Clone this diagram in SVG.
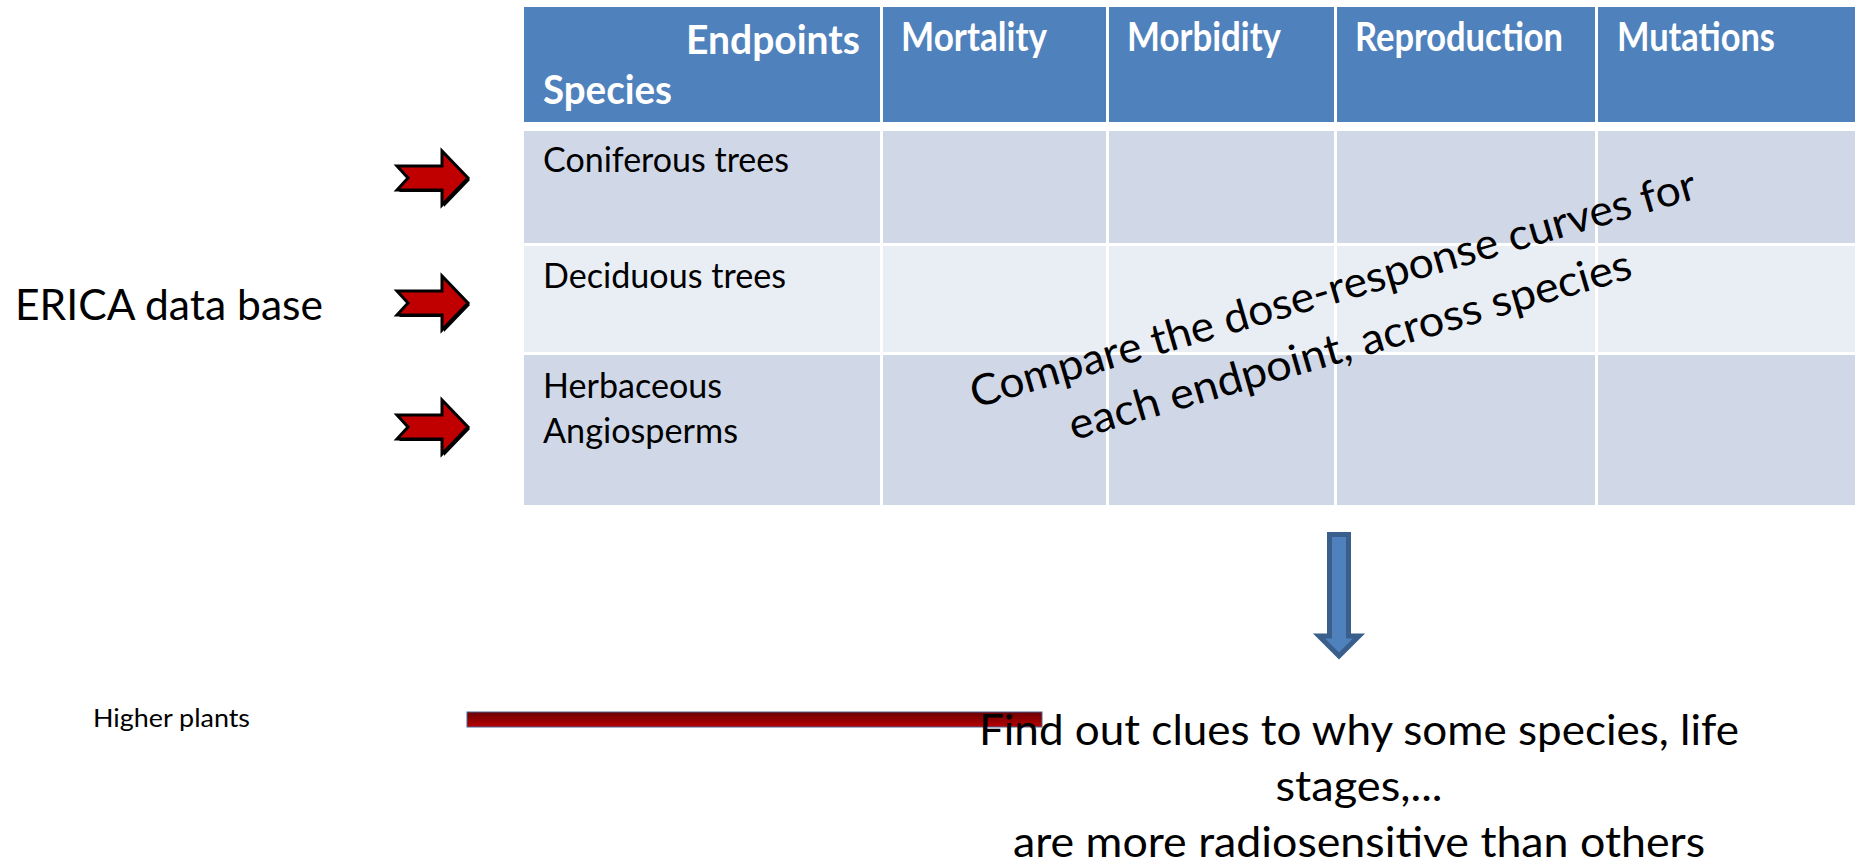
<svg xmlns="http://www.w3.org/2000/svg" width="1855" height="863" viewBox="0 0 1855 863">
  <style>
    .hd { font-family: Lato, "Open Sans", sans-serif; font-weight: bold; font-size: 40px; fill: #ffffff; }
    .cell { font-family: Lato, "Open Sans", sans-serif; font-size: 35px; fill: #000000; }
    .big { font-family: Lato, "Open Sans", sans-serif; font-size: 43px; fill: #000000; }
    .small { font-family: Lato, "Open Sans", sans-serif; font-size: 25px; fill: #000000; }
    .h { fill: #4F81BD; }
    .r1 { fill: #D0D8E8; }
    .r2 { fill: #E9EDF4; }
    .redarrow { fill: #C00000; stroke: #000000; stroke-width: 3; stroke-linejoin: miter; }
    .shadow { fill: #000000; }
  </style>
  <defs>
    <linearGradient id="barGrad" x1="0" y1="0" x2="0" y2="1">
      <stop offset="0" stop-color="#6A0000"/>
      <stop offset="1" stop-color="#B80000"/>
    </linearGradient>
    <polygon id="redArrowShape" points="0,-12 45,-12 45,-27 71,0 45,27 45,12 0,12 11,0"/>
  </defs>
  <rect width="1855" height="863" fill="#ffffff"/>

  <g id="table">
    <rect class="h" x="524" y="7" width="356" height="115"/>
    <rect class="h" x="883" y="7" width="223" height="115"/>
    <rect class="h" x="1109" y="7" width="225" height="115"/>
    <rect class="h" x="1337" y="7" width="258" height="115"/>
    <rect class="h" x="1598" y="7" width="257" height="115"/>

    <rect class="r1" x="524" y="131" width="356" height="112"/>
    <rect class="r1" x="883" y="131" width="223" height="112"/>
    <rect class="r1" x="1109" y="131" width="225" height="112"/>
    <rect class="r1" x="1337" y="131" width="258" height="112"/>
    <rect class="r1" x="1598" y="131" width="257" height="112"/>

    <rect class="r2" x="524" y="246" width="356" height="106"/>
    <rect class="r2" x="883" y="246" width="223" height="106"/>
    <rect class="r2" x="1109" y="246" width="225" height="106"/>
    <rect class="r2" x="1337" y="246" width="258" height="106"/>
    <rect class="r2" x="1598" y="246" width="257" height="106"/>

    <rect class="r1" x="524" y="355" width="356" height="150"/>
    <rect class="r1" x="883" y="355" width="223" height="150"/>
    <rect class="r1" x="1109" y="355" width="225" height="150"/>
    <rect class="r1" x="1337" y="355" width="258" height="150"/>
    <rect class="r1" x="1598" y="355" width="257" height="150"/>

    <text class="hd" x="860" y="54" text-anchor="end" textLength="174" lengthAdjust="spacingAndGlyphs">Endpoints</text>
    <text class="hd" x="543" y="104" textLength="129" lengthAdjust="spacingAndGlyphs">Species</text>
    <text class="hd" x="901" y="51" textLength="146" lengthAdjust="spacingAndGlyphs">Mortality</text>
    <text class="hd" x="1127" y="51" textLength="154" lengthAdjust="spacingAndGlyphs">Morbidity</text>
    <text class="hd" x="1355" y="51" textLength="208" lengthAdjust="spacingAndGlyphs">Reproduction</text>
    <text class="hd" x="1617" y="51" textLength="158" lengthAdjust="spacingAndGlyphs">Mutations</text>

    <text class="cell" x="543" y="172" textLength="246" lengthAdjust="spacingAndGlyphs">Coniferous trees</text>
    <text class="cell" x="543" y="288" textLength="243" lengthAdjust="spacingAndGlyphs">Deciduous trees</text>
    <text class="cell" x="543" y="398" textLength="179" lengthAdjust="spacingAndGlyphs">Herbaceous</text>
    <text class="cell" x="543" y="443" textLength="195" lengthAdjust="spacingAndGlyphs">Angiosperms</text>
  </g>

  <g id="erica-label">
    <text class="big" x="15" y="320" font-size="46" textLength="308" lengthAdjust="spacingAndGlyphs">ERICA data base</text>
  </g>

  <g id="higher-plants">
    <text class="small" x="93" y="727" textLength="157" lengthAdjust="spacingAndGlyphs">Higher plants</text>
  </g>

  <g id="red-bar">
    <rect x="467" y="712" width="575" height="15" fill="url(#barGrad)" stroke="#4A6492" stroke-width="1"/>
  </g>

  <g id="compare-text">
    <text class="big" text-anchor="middle" transform="rotate(-16.2 1337 303)" x="1337" y="303" textLength="754" lengthAdjust="spacingAndGlyphs">Compare the dose-response curves for</text>
    <text class="big" text-anchor="middle" transform="rotate(-16.2 1354 359)" x="1354" y="359" textLength="584" lengthAdjust="spacingAndGlyphs">each endpoint, across species</text>
  </g>

  <g id="find-text">
    <text class="big" x="1359" y="745" text-anchor="middle" textLength="760" lengthAdjust="spacingAndGlyphs">Find out clues to why some species, life</text>
    <text class="big" x="1359" y="801" text-anchor="middle" textLength="167" lengthAdjust="spacingAndGlyphs">stages,...</text>
    <text class="big" x="1359" y="857" text-anchor="middle" textLength="692" lengthAdjust="spacingAndGlyphs">are more radiosensitive than others</text>
  </g>

  <g id="connectors">
    <g id="arrow-1" transform="translate(397 178)">
      <use href="#redArrowShape" class="shadow" transform="translate(2 2)"/>
      <use href="#redArrowShape" class="redarrow"/>
    </g>
    <g id="arrow-2" transform="translate(397 303)">
      <use href="#redArrowShape" class="shadow" transform="translate(2 2)"/>
      <use href="#redArrowShape" class="redarrow"/>
    </g>
    <g id="arrow-3" transform="translate(397 427)">
      <use href="#redArrowShape" class="shadow" transform="translate(2 2)"/>
      <use href="#redArrowShape" class="redarrow"/>
    </g>
    <polygon id="down-arrow" points="1329.5,534.5 1348.5,534.5 1348.5,636 1359,636 1339,656 1319,636 1329.5,636" fill="#4F81BD" stroke="#3A5F8B" stroke-width="5" stroke-linejoin="miter"/>
  </g>
</svg>
